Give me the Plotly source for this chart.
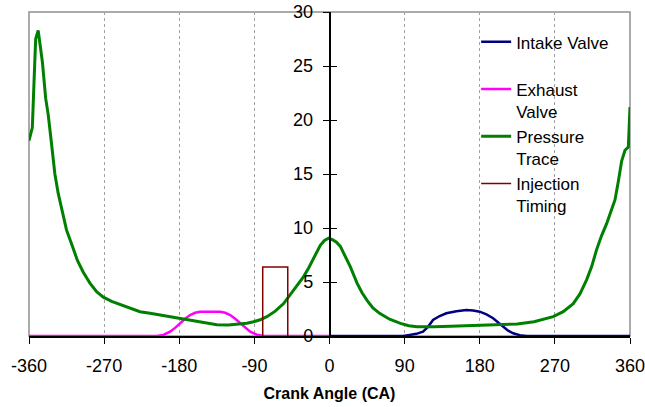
import plotly.graph_objects as go

# ---- data ----
pressure_x = [-360, -356, -354, -352, -349, -347, -344, -340, -337, -333, -329, -325, -320, -315, -308,
              -302, -295, -287, -279, -271, -261, -251, -239, -227, -215, -203, -191, -179, -167, -155,
              -145, -135, -121, -107, -99, -91, -83, -75, -65, -55, -49, -43, -37, -31, -25, -19, -15,
              -11, -6, -1, 4, 8, 13, 18, 25, 33, 39, 45, 52, 60, 72, 85, 95, 105, 115, 125, 145, 165,
              185, 205, 225, 245, 258, 268, 280, 292, 300, 308, 314, 320, 326, 332, 337, 342, 346, 350,
              354, 358, 360]
pressure_y = [18.1, 19.3, 23.5, 27.5, 28.3, 27.0, 25.4, 22.0, 20.5, 17.8, 15.0, 13.2, 11.6, 9.8, 8.3,
              7.0, 5.9, 4.9, 4.1, 3.6, 3.2, 2.9, 2.55, 2.25, 2.1, 1.94, 1.8, 1.64, 1.48, 1.32,
              1.17, 1.05, 1.02, 1.08, 1.18, 1.32, 1.5, 1.79, 2.3, 3.0, 3.6, 4.26, 4.9, 5.5, 6.3, 7.2, 7.8,
              8.4, 8.85, 9.05, 8.9, 8.7, 8.3, 7.5, 6.4, 4.9, 4.0, 3.3, 2.6, 2.1, 1.55, 1.17, 0.95, 0.86,
              0.84, 0.86, 0.9, 0.94, 0.98, 1.03, 1.12, 1.32, 1.55, 1.79, 2.25, 3.0, 3.9, 5.2, 6.4, 8.0,
              9.3, 10.4, 11.5, 12.6, 14.3, 16.2, 17.2, 17.5, 21.2]

exhaust_x = [-360, -207, -199, -191, -185, -179, -173, -167, -161, -155, -143, -131, -125, -119, -113,
             -107, -101, -95, -87, -79, 0]
exhaust_y = [0, 0, 0.1, 0.4, 0.75, 1.2, 1.6, 1.94, 2.15, 2.25, 2.28, 2.25, 2.15, 1.94, 1.6,
             1.17, 0.75, 0.4, 0.12, 0, 0]

intake_x = [0, 88, 96, 104, 112, 118, 124, 132, 140, 152, 164, 172, 180, 188, 196, 202, 208, 214,
            220, 228, 236, 360]
intake_y = [0, 0, 0.1, 0.2, 0.4, 0.85, 1.48, 1.85, 2.1, 2.3, 2.4, 2.36, 2.25, 2.0, 1.64, 1.25, 0.86,
            0.5, 0.25, 0.08, 0, 0]

injection_x = [-80, -80, -50, -50]
injection_y = [0, 6.4, 6.4, 0]

x_ticks = [-360, -270, -180, -90, 0, 90, 180, 270, 360]
y_ticks = [0, 5, 10, 15, 20, 25, 30]

FONT = "Liberation Sans, Arial, sans-serif"

fig = go.Figure()
fig.add_trace(go.Scatter(x=intake_x, y=intake_y, mode="lines", name="Intake Valve<br> ",
                         line=dict(color="#000080", width=2.5)))
fig.add_trace(go.Scatter(x=exhaust_x, y=exhaust_y, mode="lines", name="Exhaust<br>Valve",
                         line=dict(color="#FF00FF", width=2.5)))
fig.add_trace(go.Scatter(x=pressure_x, y=pressure_y, mode="lines", name="Pressure<br>Trace",
                         line=dict(color="#008000", width=3)))
fig.add_trace(go.Scatter(x=injection_x, y=injection_y, mode="lines", name="Injection<br>Timing",
                         line=dict(color="#800000", width=1.5)))

# white legend backdrop hiding the gridlines behind the legend
fig.add_shape(type="rect", xref="paper", yref="paper", x0=0.734, x1=0.968, y0=0.383, y1=0.935,
              line=dict(width=0), fillcolor="white", layer="between")
# plot-area border (gray)
fig.add_shape(type="rect", xref="paper", yref="paper", x0=0, x1=1, y0=0, y1=1,
              line=dict(color="#909090", width=1.5), layer="between")

fig.update_layout(
    width=645, height=407,
    margin=dict(l=29, r=15, t=12, b=71, autoexpand=False),
    paper_bgcolor="white", plot_bgcolor="white",
    font=dict(family=FONT, color="black", size=18),
    showlegend=True,
    legend=dict(x=0.744, y=0.962, xanchor="left", yanchor="top",
                bgcolor="rgba(0,0,0,0)", borderwidth=0, valign="top",
                font=dict(family=FONT, size=17, color="black"),
                itemwidth=30, tracegroupgap=0),
    xaxis=dict(range=[-360, 360], tickmode="array", tickvals=x_ticks,
               ticktext=[str(v) for v in x_ticks],
               automargin=False, ticklabeloverflow="allow",
               showgrid=True, gridcolor="#a0a0a0", griddash="3px,3px", gridwidth=1,
               showline=True, linecolor="black", linewidth=1.5,
               ticks="outside", ticklen=6, tickcolor="black",
               ticklabelstandoff=7,
               zeroline=False,
               tickfont=dict(size=18),
               title=dict(text="<b>Crank Angle (CA)</b>", font=dict(size=16), standoff=12)),
    yaxis=dict(range=[0, 30], tickmode="array", tickvals=y_ticks,
               automargin=False,
               showgrid=False, zeroline=False,
               anchor="free", position=0.5,
               showline=True, linecolor="black", linewidth=1.5,
               ticks="outside", ticklen=6, tickcolor="black",
               ticklabelstandoff=6,
               tickfont=dict(size=18)),
    yaxis2=dict(range=[0, 30], tickmode="array", tickvals=y_ticks,
                overlaying="y", anchor="free", position=0.5, automargin=False,
                showgrid=False, zeroline=False, showline=False,
                ticks="inside", ticklen=6, tickcolor="black",
                showticklabels=False),
)

# invisible trace on yaxis2 so the inside ticks render
fig.add_trace(go.Scatter(x=[0], y=[0], yaxis="y2", mode="markers",
                         marker=dict(opacity=0), showlegend=False, hoverinfo="skip"))

fig.write_html("out.html", config={"displayModeBar": False},
               post_script="document.body.style.margin='0';")
